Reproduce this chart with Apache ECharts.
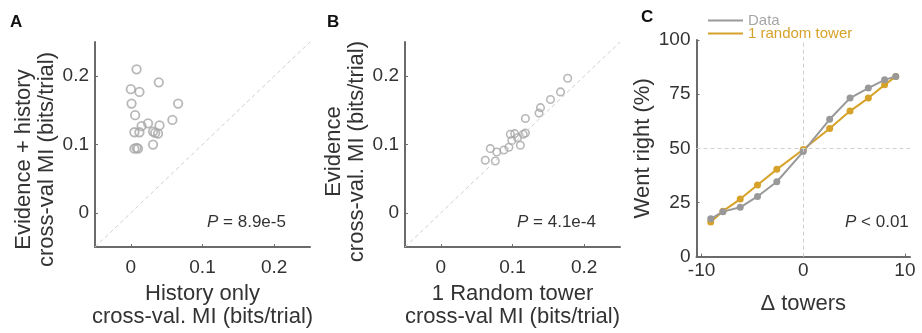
<!DOCTYPE html>
<html>
<head>
<meta charset="utf-8">
<script src="https://cdn.jsdelivr.net/npm/echarts@6/dist/echarts.min.js"></script>
<style>
  html, body { margin: 0; padding: 0; background: #fff; }
  #chart { width: 922px; height: 333px; }
</style>
</head>
<body>
<div id="chart"></div>
<script>
// A: history only vs evidence + history
const histOnlyMI = [0.008, 0.039, 0.000, 0.012, 0.001, 0.066, 0.006, 0.058, 0.024, 0.015, 0.040, 0.005, 0.012, 0.031, 0.038, 0.034, 0.031, 0.005, 0.008, 0.010];
const evHistMI   = [0.210, 0.191, 0.181, 0.177, 0.160, 0.160, 0.143, 0.136, 0.131, 0.127, 0.128, 0.118, 0.118, 0.119, 0.116, 0.117, 0.100, 0.094, 0.095, 0.094];

// B: 1 random tower vs evidence
const randTowerMI = [0.062, 0.076, 0.069, 0.078, 0.088, 0.095, 0.099, 0.097, 0.103, 0.107, 0.111, 0.115, 0.118, 0.118, 0.137, 0.139, 0.153, 0.167, 0.177];
const evidenceMI  = [0.077, 0.076, 0.094, 0.089, 0.092, 0.096, 0.106, 0.115, 0.116, 0.110, 0.099, 0.115, 0.117, 0.138, 0.146, 0.154, 0.166, 0.177, 0.197];

// C: psychometric curves
const towerDiff     = [-9.1, -7.9, -6.2, -4.5, -2.6, 0, 2.6, 4.6, 6.4, 8.0, 9.1];
const wentRightData = [17.5, 20.8, 22.8, 27.8, 34.6, 48.5, 63.4, 73.2, 77.8, 81.6, 83.2];
const wentRightRand = [16.0, 21.0, 26.6, 33.1, 40.3, 49.5, 59.2, 67.2, 73.2, 79.3, 83.2];

const miTicks = [0, 0.1, 0.2];
const miRange = [-0.05, 0.25];
const towerTicks = [-10, 0, 10];
const towerRange = [-10.5, 10.5];

const FONT = "Liberation Sans";
const GRAY = "#a6a6a6";
const ORANGE = "#d6a22a";
const AXIS = "#6b6b6b";
const TXT = "#333";

const chart = echarts.init(document.getElementById("chart"));

function zip(xs, ys) {
  return xs.map((x, i) => [x, ys[i]]);
}

// shift: pushes a rotated y name down the page
function valueAxis(idx, range, ticks, name, nameGap, labelMargin, shift) {
  return {
    type: "value",
    gridIndex: idx,
    min: range[0],
    max: range[1],
    name: name,
    nameLocation: "middle",
    nameGap: nameGap,
    nameTextStyle: {
      fontFamily: FONT,
      fontSize: 22,
      color: TXT,
      lineHeight: 23,
      padding: shift ? [0, shift * 2, 0, 0] : 0,
    },
    axisLine: { show: true, onZero: false, lineStyle: { color: AXIS, width: 2 } },
    axisTick: { show: true, inside: true, length: 3, customValues: ticks, lineStyle: { color: AXIS } },
    axisLabel: {
      show: true,
      customValues: ticks,
      fontFamily: FONT,
      fontSize: 19,
      color: TXT,
      margin: labelMargin,
    },
    splitLine: { show: false },
  };
}

function pText(x, y, rest) {
  return {
    type: "text",
    left: x,
    top: y,
    style: {
      text: "{p|P}" + rest,
      font: "17px " + FONT,
      fill: TXT,
      rich: { p: { fontStyle: "italic", fontFamily: FONT, fontSize: 17, fill: TXT } },
    },
  };
}

function panelLetter(ch, x, y) {
  return {
    type: "text",
    left: x,
    top: y,
    style: { text: ch, font: "bold 17px " + FONT, fill: "#111" },
  };
}

const yC = valueAxis(2, [0, 100], null, "Went right (%)", 36, 6, 0);
yC.interval = 25;
yC.axisTick = { show: true, inside: true, length: 3, lineStyle: { color: AXIS } };

const option = {
  animation: false,
  grid: [
    { left: 95, top: 42, width: 215, height: 215 },
    { left: 405, top: 42, width: 215, height: 215 },
    { left: 696.5, top: 40, width: 213.5, height: 216.7 },
  ],
  xAxis: [
    valueAxis(0, miRange, miTicks, "History only\ncross-val. MI (bits/trial)", 32, 11, 0),
    valueAxis(1, miRange, miTicks, "1 Random tower\ncross-val MI (bits/trial)", 32, 11, 0),
    valueAxis(2, towerRange, towerTicks, "Δ towers", 36, 5, 0),
  ],
  yAxis: [
    valueAxis(0, miRange, miTicks, "Evidence + history\ncross-val MI (bits/trial)", 33, 6, 15),
    valueAxis(1, miRange, miTicks, "Evidence\ncross-val. MI (bits/trial)", 33, 6, 7),
    yC,
  ],
  legend: {
    orient: "vertical",
    left: 703,
    top: 8,
    itemWidth: 35,
    itemHeight: 2,
    itemGap: -2,
    icon: "rect",
    data: [
      { name: "Data", textStyle: { color: GRAY } },
      { name: "1 random tower", textStyle: { color: ORANGE } },
    ],
    textStyle: { fontFamily: FONT, fontSize: 15 },
  },
  series: [
    // unity lines
    {
      type: "line",
      xAxisIndex: 0,
      yAxisIndex: 0,
      data: [[miRange[0], miRange[0]], [miRange[1], miRange[1]]],
      symbol: "none",
      silent: true,
      lineStyle: { color: "#cfcfcf", width: 1, type: [4, 3] },
    },
    {
      type: "line",
      xAxisIndex: 1,
      yAxisIndex: 1,
      data: [[miRange[0], miRange[0]], [miRange[1], miRange[1]]],
      symbol: "none",
      silent: true,
      lineStyle: { color: "#cfcfcf", width: 1, type: [4, 3] },
    },
    {
      type: "scatter",
      xAxisIndex: 0,
      yAxisIndex: 0,
      data: zip(histOnlyMI, evHistMI),
      symbol: "circle",
      symbolSize: 8.5,
      itemStyle: { color: "rgba(255,255,255,0)", borderColor: GRAY, borderWidth: 1.8 },
    },
    {
      type: "scatter",
      xAxisIndex: 1,
      yAxisIndex: 1,
      data: zip(randTowerMI, evidenceMI),
      symbol: "circle",
      symbolSize: 7.5,
      itemStyle: { color: "rgba(255,255,255,0)", borderColor: GRAY, borderWidth: 1.6 },
    },
    {
      name: "1 random tower",
      type: "line",
      xAxisIndex: 2,
      yAxisIndex: 2,
      data: zip(towerDiff, wentRightRand),
      symbol: "circle",
      symbolSize: 7,
      itemStyle: { color: ORANGE },
      lineStyle: { color: ORANGE, width: 2 },
      markLine: {
        silent: true,
        symbol: "none",
        label: { show: false },
        lineStyle: { color: "#d0d0d0", width: 1, type: [4, 3] },
        data: [{ xAxis: 0 }, { yAxis: 50 }],
      },
    },
    {
      name: "Data",
      type: "line",
      xAxisIndex: 2,
      yAxisIndex: 2,
      data: zip(towerDiff, wentRightData),
      symbol: "circle",
      symbolSize: 7,
      itemStyle: { color: "#999" },
      lineStyle: { color: "#999", width: 2 },
    },
  ],
  graphic: [
    panelLetter("A", 10, 14),
    panelLetter("B", 327, 14),
    panelLetter("C", 641, 9),
    pText(207, 214, " = 8.9e-5"),
    pText(517, 214, " = 4.1e-4"),
    pText(845, 214, " < 0.01"),
  ],
};

chart.setOption(option);
</script>
</body>
</html>
